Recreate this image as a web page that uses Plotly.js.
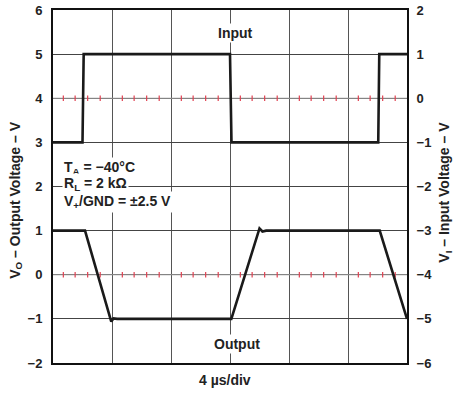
<!DOCTYPE html>
<html>
<head>
<meta charset="utf-8">
<script src="https://cdn.plot.ly/plotly-3.0.1.min.js"></script>
<style>html,body{margin:0;padding:0;background:#fff;}#chart{width:458px;height:394px;}</style>
</head>
<body>
<div id="chart"></div>
<script>
// Time in µs (4 µs per division)
const inputTime = [0, 2.0, 2.08, 12.0, 12.1, 22.05, 22.12, 24];
const inputVolts = [-1, -1, 1, 1, -1, -1, 1, 1];           // right axis (V_I)
const outputTime = [0, 2.17, 3.95, 4.1, 4.35, 12.09, 14.0, 14.2, 14.45, 22.15, 24];
const outputVolts = [1, 1, -1.06, -0.99, -1, -1, 1.05, 0.98, 1, 1, -1]; // left axis (V_O)
const refLevels = [4, 0];                                    // lighter reference lines (left axis)
const minorTicks = [0.7,1.5,2.35,3.2, 4.7,5.5,6.35,7.2, 8.7,9.5,10.35,11.2, 12.7,13.5,14.35,15.2, 16.7,17.5,18.35,19.2, 20.7,21.5,22.35,23.2];
const leftTicks = [-2,-1,0,1,2,3,4,5,6];
const rightTicks = [-6,-5,-4,-3,-2,-1,0,1,2];
const conditions = ["T<sub>A</sub> = −40°C", "R<sub>L</sub> = 2 kΩ", "V<sub>+</sub>/GND = ±2.5 V"];
const conditionY = [2.43, 2.05, 1.66];

const FONT = "Liberation Sans, Arial, sans-serif";
const TXT = {family:FONT, size:14, color:'#222', weight:'bold'};
const traces = [];
refLevels.forEach(lv => {
  traces.push({x:[0,24], y:[lv,lv], mode:'lines', line:{color:'#9a9a9a', width:1.2}, hoverinfo:'skip', showlegend:false});
  traces.push({x:minorTicks, y:minorTicks.map(()=>lv), mode:'markers',
    marker:{symbol:'line-ns', size:4, line:{color:'#e04050', width:1.2}}, hoverinfo:'skip', showlegend:false});
});
traces.push({x:inputTime, y:inputVolts, yaxis:'y2', mode:'lines', line:{color:'#1a1a1a', width:2.6}, showlegend:false});
traces.push({x:outputTime, y:outputVolts, mode:'lines', line:{color:'#1a1a1a', width:2.6}, showlegend:false});

const annotations = [
  {x:12.35, y:5.47, text:'Input', showarrow:false, bgcolor:'#fff', borderpad:1, font:TXT},
  {x:12.45, y:-1.57, text:'Output', showarrow:false, bgcolor:'#fff', borderpad:1, font:TXT},
  {xref:'paper', yref:'paper', x:0.486, y:-0.048, xanchor:'center', yanchor:'middle', text:'4 µs/div', showarrow:false, font:TXT},
  {xref:'paper', yref:'paper', x:-0.107, y:0.46, xanchor:'center', yanchor:'middle', text:'V<sub>O</sub> – Output Voltage – V', textangle:-90, showarrow:false, font:TXT},
  {xref:'paper', yref:'paper', x:1.107, y:0.485, xanchor:'center', yanchor:'middle', text:'V<sub>I</sub> – Input Voltage – V', textangle:-90, showarrow:false, font:TXT}
];
conditions.forEach((t,i) => annotations.push({x:0.62, y:conditionY[i], xanchor:'left', text:t, showarrow:false, bgcolor:'#fff', borderpad:1, font:TXT}));

const TICKF = {family:FONT, size:13, weight:'bold', color:'#222'};
const layout = {
  width:458, height:394,
  margin:{l:53, r:51, t:10, b:31},
  paper_bgcolor:'#fff', plot_bgcolor:'#fff',
  font:{family:FONT, size:12, color:'#222', weight:'bold'},
  xaxis:{range:[0,24], dtick:4, showticklabels:false, showgrid:true, gridcolor:'#555', gridwidth:1,
    zeroline:false, showline:true, linecolor:'#111', linewidth:2, mirror:true, ticks:''},
  yaxis:{range:[-2,6], tickvals:leftTicks, showgrid:true, gridcolor:'#444', gridwidth:1, zeroline:false,
    showline:true, linecolor:'#111', linewidth:2, ticks:'outside', ticklen:6, tickcolor:'rgba(0,0,0,0)',
    tickfont:TICKF},
  yaxis2:{range:[-6,2], tickvals:rightTicks, overlaying:'y', side:'right', showgrid:false, zeroline:false,
    showline:true, linecolor:'#111', linewidth:2, ticks:'outside', ticklen:5, tickcolor:'rgba(0,0,0,0)',
    tickfont:TICKF},
  annotations:annotations
};
Plotly.newPlot('chart', traces, layout, {staticPlot:true, displayModeBar:false});
</script>
</body>
</html>
